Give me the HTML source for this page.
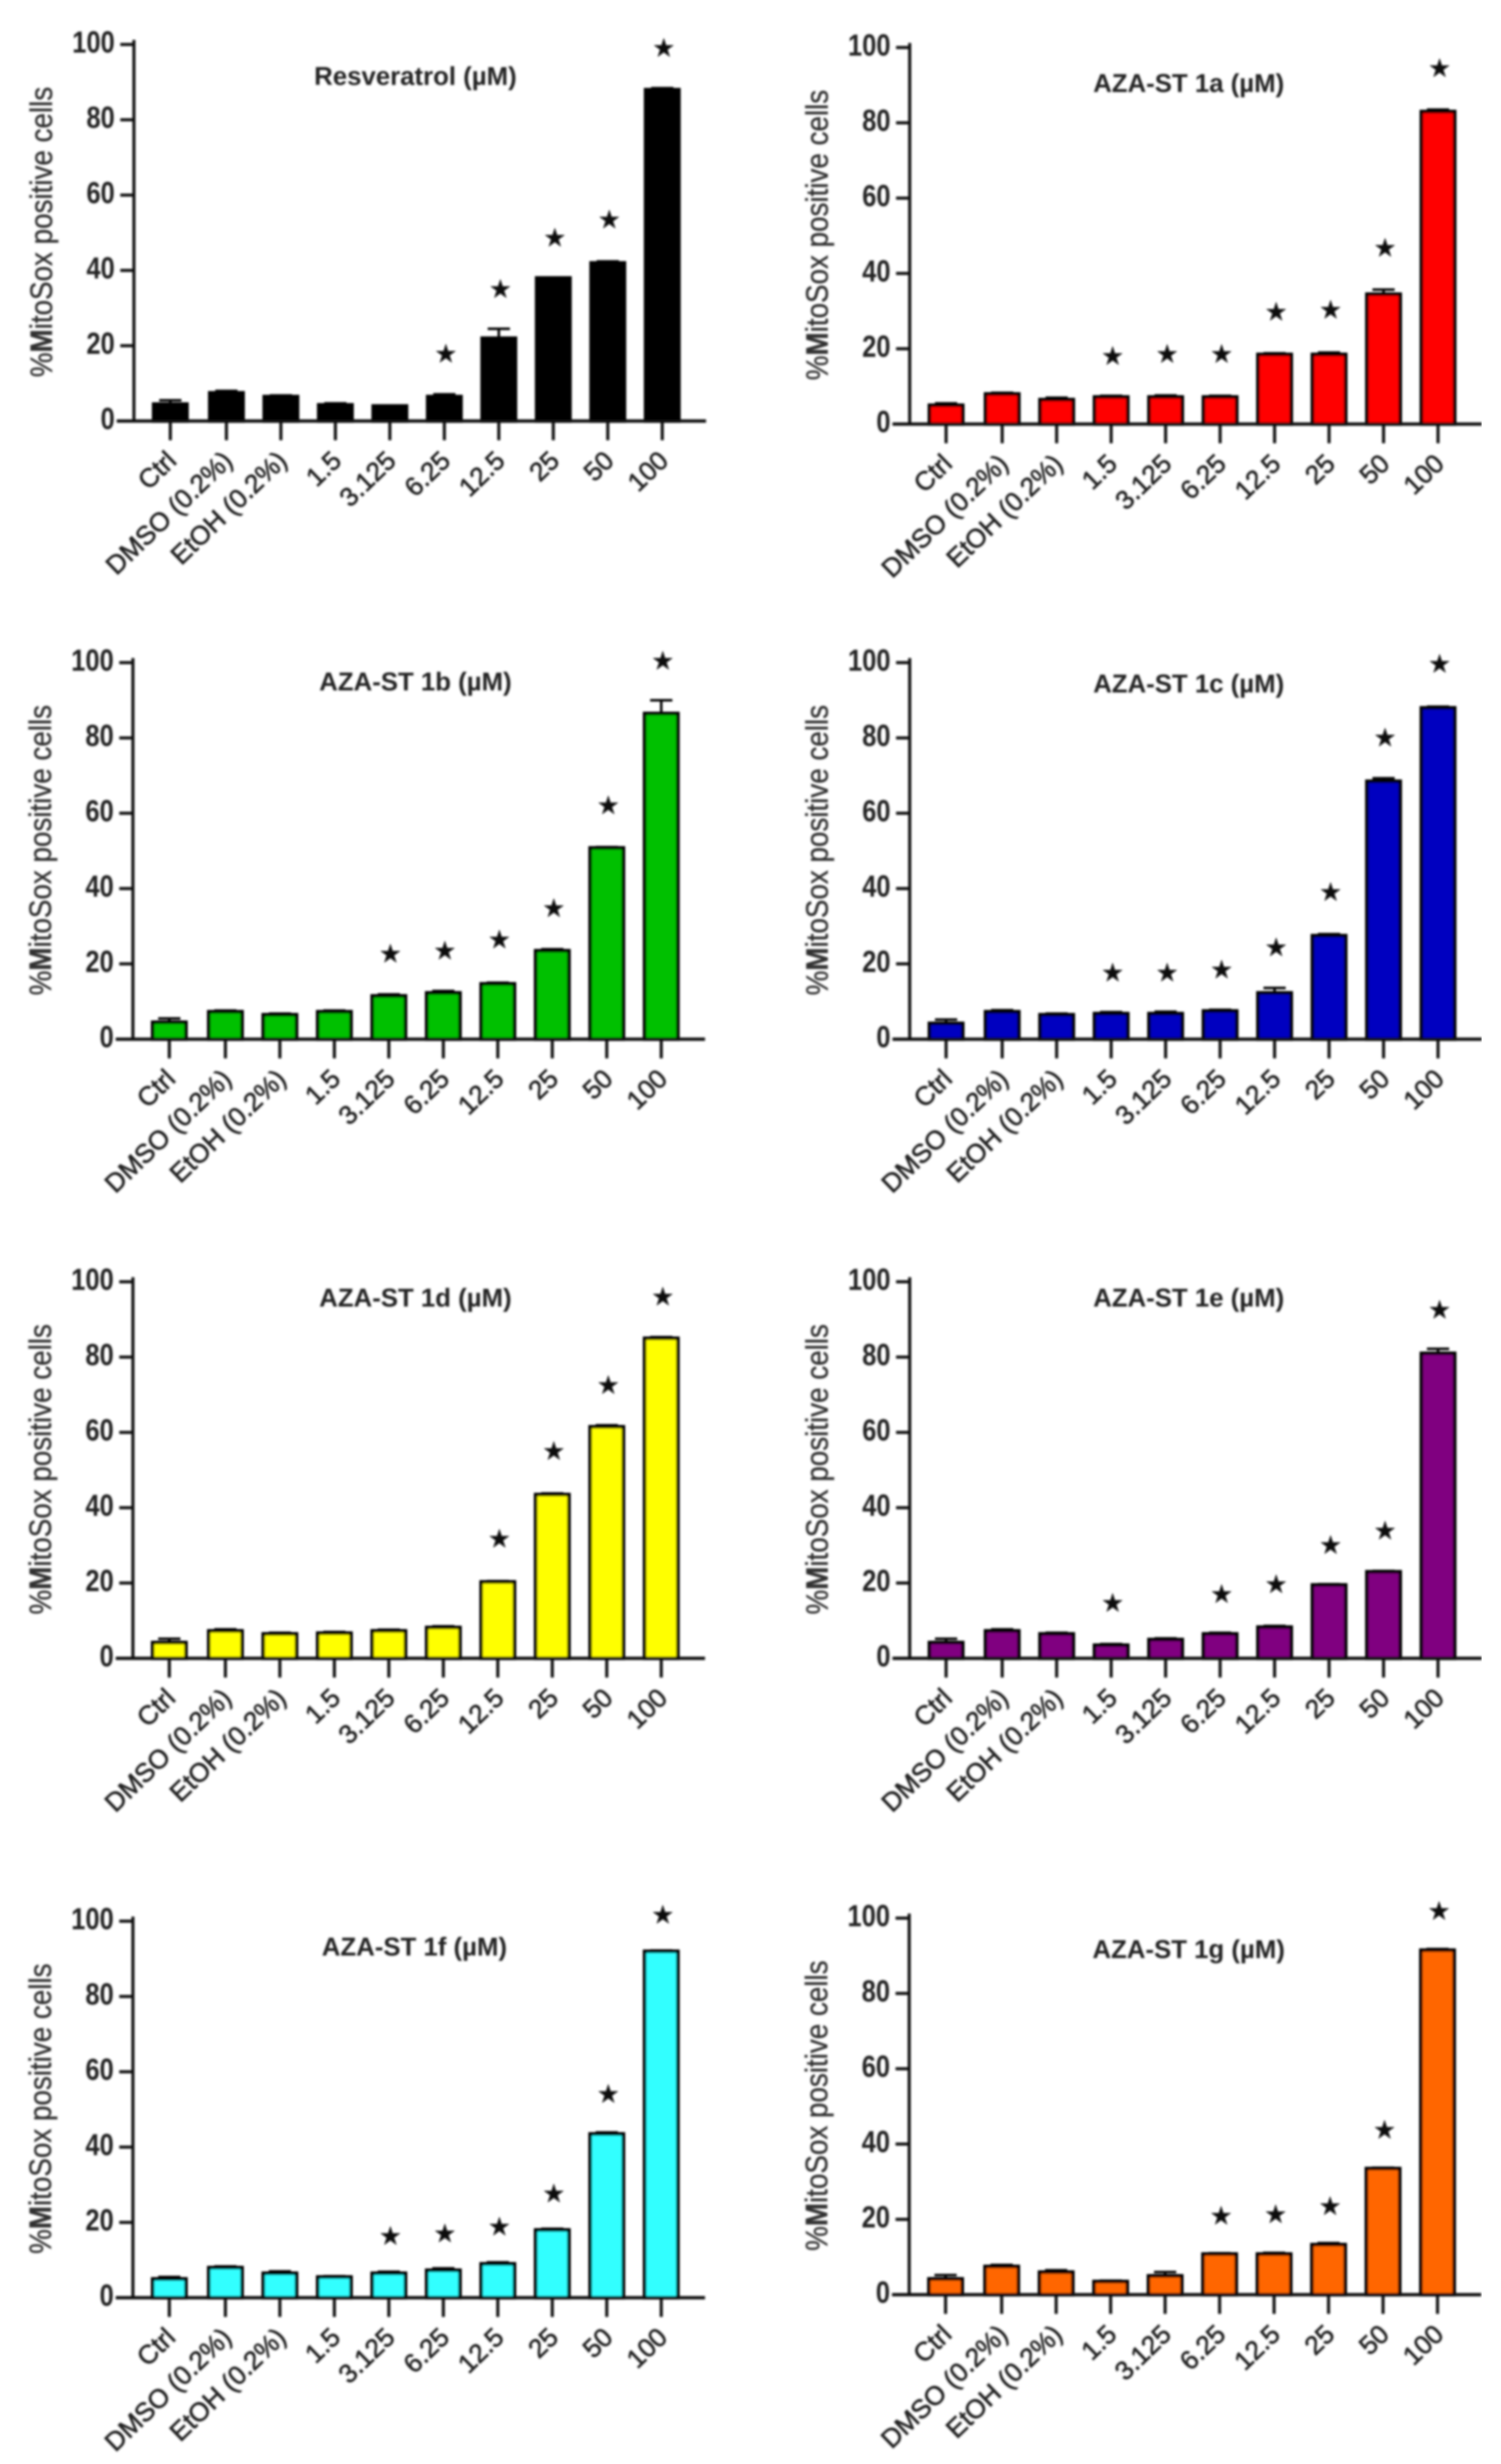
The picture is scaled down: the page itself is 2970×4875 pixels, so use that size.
<!DOCTYPE html>
<html lang="en">
<head>
<meta charset="utf-8">
<title>MitoSox positive cells</title>
<style>
html,body{margin:0;padding:0;background:#fff;}
svg{display:block;}
text{font-family:"Liberation Sans",sans-serif;}
</style>
</head>
<body>
<svg id="figure" width="2970" height="4875" viewBox="0 0 2970 4875" xmlns="http://www.w3.org/2000/svg">
<defs><filter id="soft" x="0" y="0" width="100%" height="100%"><feGaussianBlur stdDeviation="2"/></filter></defs>
<rect width="2970" height="4875" fill="#fff"/>
<g id="root" filter="url(#soft)"></g>
</svg>
<script>
const categories = ["Ctrl","DMSO (0.2%)","EtOH (0.2%)","1.5","3.125","6.25","12.5","25","50","100"];
const yTicks = [0,20,40,60,80,100];

const titles = ["Resveratrol (µM)","AZA-ST 1a (µM)","AZA-ST 1b (µM)","AZA-ST 1c (µM)","AZA-ST 1d (µM)","AZA-ST 1e (µM)","AZA-ST 1f (µM)","AZA-ST 1g (µM)"];

const valuesResveratrol = [4.5,7.5,6.5,4.3,4,6.5,22,38,42,88];
const errorsResveratrol = [1,0.5,0.3,0.4,0.1,0.6,2.5,0.1,0.4,0.4];
const starsResveratrol = [null,null,null,null,null,17.8,35,48.6,53.4,99];

const values1a = [5,8,6.5,7.2,7.2,7.2,18.5,18.5,34.5,83];
const errors1a = [0.5,0.3,0.5,0.3,0.4,0.3,0.3,0.5,1.2,0.5];
const stars1a = [null,null,null,18,18.5,18.5,29.7,30.3,46.7,94.4];

const values1b = [4.5,7.3,6.5,7.3,11.5,12.3,14.7,23.5,50.8,86.5];
const errors1b = [1,0.3,0.3,0.3,0.4,0.5,0.3,0.4,0.2,3.5];
const stars1b = [null,null,null,null,22.6,23.4,26.4,34.7,62,100.4];

const values1c = [4.2,7.3,6.5,6.8,6.8,7.5,12.3,27.5,68.5,88];
const errors1c = [1,0.4,0.3,0.4,0.5,0.3,1.3,0.4,0.8,0.3];
const stars1c = [null,null,null,17.6,17.6,18.4,24.3,39,80,99.6];

const values1d = [4.2,7.3,6.5,6.7,7.3,8.2,20.3,43.5,61.5,85];
const errors1d = [1,0.4,0.3,0.3,0.3,0.3,0.2,0.3,0.4,0.3];
const stars1d = [null,null,null,null,null,null,31.7,55,72.5,96];

const values1e = [4.2,7.3,6.5,3.5,5,6.5,8.3,19.5,23,81];
const errors1e = [1,0.4,0.3,0.3,0.3,0.3,0.3,0.2,0.2,1.2];
const stars1e = [null,null,null,14.6,null,17,19.6,30,33.8,92.5];

const values1f = [5,8,6.5,5.5,6.5,7.3,9,18,43.5,92];
const errors1f = [0.5,0.3,0.5,0.2,0.4,0.5,0.4,0.3,0.4,0.2];
const stars1f = [null,null,null,null,16.3,17,18.8,27.6,54,101.6];

const values1g = [4.2,7.5,6,3.5,5,10.8,10.8,13.3,33.5,91.5];
const errors1g = [1,0.4,0.5,0.2,1,0.2,0.3,0.4,0.2,0.3];
const stars1g = [null,null,null,null,null,20.9,21.3,23.4,43.7,101.8];

const seriesValues = [valuesResveratrol,values1a,values1b,values1c,values1d,values1e,values1f,values1g];
const seriesErrors = [errorsResveratrol,errors1a,errors1b,errors1c,errors1d,errors1e,errors1f,errors1g];
const seriesStars = [starsResveratrol,stars1a,stars1b,stars1c,stars1d,stars1e,stars1f,stars1g];

const seriesColors = ["#000000","#ff0000","#00c000","#0000c0","#ffff00","#800080","#33ffff","#ff6600"];
const panelSlugs = ["resveratrol","aza-st-1a","aza-st-1b","aza-st-1c","aza-st-1d","aza-st-1e","aza-st-1f","aza-st-1g"];

const axisLefts = [265,1800,263,1800,263,1800,263,1799];
const axisBottoms = [833,839,2056,2056,3281,3281,4546,4540];
const titleXs = [822,2352,822,2352,822,2352,820,2352];
const titleYs = [168,182,1366,1370,2585,2585,3869,3874];
const plotHeight = 745;

const NS = "http://www.w3.org/2000/svg";
const root = document.getElementById("root");
function make(parent, tag, attrs, text){
  const el = document.createElementNS(NS, tag);
  for(const k in attrs){ el.setAttribute(k, attrs[k]); }
  if(text !== undefined){ el.textContent = text; }
  parent.appendChild(el);
  return el;
}

seriesValues.forEach(function(vals, p){
  const left = axisLefts[p], bottom = axisBottoms[p], top = bottom - plotHeight;
  const yScale = function(v){ return bottom - plotHeight*v/100; };
  const xScale = function(i){ return i === 0 ? left + 72 : left + 183 + (i-1)*107.8; };
  const g = make(root, "g", {});
  
  

  const title = make(g, "text", {x:titleXs[p], y:titleYs[p], "text-anchor":"middle", "font-size":51, "font-weight":"bold", fill:"#222"}, titles[p]);
  
  

  const yt = make(g, "text", {transform:"translate("+(left-162)+","+(top+371)+") rotate(-90) scale(1,1.12)", "text-anchor":"middle", "font-size":55, fill:"#333", stroke:"#333", "stroke-width":0.7});
  
  
  make(yt, "tspan", {}, "%");
  make(yt, "tspan", {"font-weight":"bold"}, "M");
  make(yt, "tspan", {}, "itoSox positive cells");

  vals.forEach(function(v, i){
    const x = xScale(i), y = yScale(v), err = seriesErrors[p][i];
    const ey = yScale(v+err);
    const bar = make(g, "rect", {x:x-33, y:y, width:66, height:bottom-y, fill:seriesColors[p], stroke:"#000", "stroke-width":7});
    
    

    const stem = make(g, "line", {x1:x, x2:x, y1:y, y2:ey, stroke:"#000", "stroke-width":5});
    
    

    const cap = make(g, "line", {x1:x-22, x2:x+22, y1:ey, y2:ey, stroke:"#000", "stroke-width":5});
    
    

    const tick = make(g, "line", {x1:x, x2:x, y1:bottom, y2:bottom+38, stroke:"#111", "stroke-width":6});
    
    

    const lx = x+15, ly = bottom+82;
    const label = make(g, "text", {transform:"translate("+lx+","+ly+") rotate(-44)", "text-anchor":"end", "font-size":52, fill:"#222", stroke:"#222", "stroke-width":1.2}, categories[i]);
    
    

    const sv = seriesStars[p][i];
    if(sv !== null){
      const star = make(g, "text", {x:x+3, y:yScale(sv)+17, "text-anchor":"middle", "font-size":52, fill:"#111", style:'font-family:"DejaVu Sans",sans-serif'}, "★");
      
      
    }
  });

  const xAxis = make(g, "line", {x1:left-34, x2:left+1132, y1:bottom, y2:bottom, stroke:"#111", "stroke-width":6.5});
  
  

  const yAxis = make(g, "line", {x1:left, x2:left, y1:top-9, y2:bottom+3, stroke:"#111", "stroke-width":6});
  
  

  yTicks.forEach(function(t){
    const ty = yScale(t);
    const tk = make(g, "line", {x1:left-27, x2:left, y1:ty, y2:ty, stroke:"#111", "stroke-width":6});
    
    
    const tl = make(g, "text", {transform:"translate("+(left-38)+","+(ty+16)+") scale(0.84,1)", "text-anchor":"end", "font-size":60, "font-weight":"bold", fill:"#222"}, String(t));
    
    
  });
});
</script>
</body>
</html>
